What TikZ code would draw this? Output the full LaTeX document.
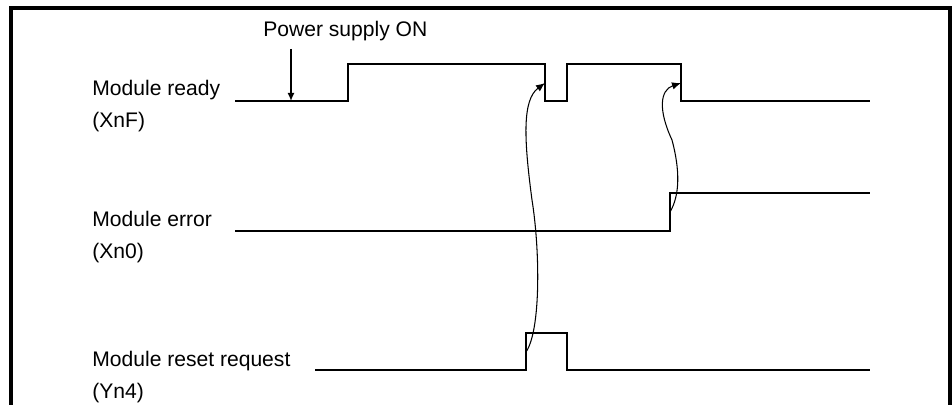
\documentclass[tikz,border=0pt]{standalone}
\usepackage{fontspec}
\setmainfont{Liberation Sans}
\usetikzlibrary{arrows.meta}
\begin{document}
\begin{tikzpicture}[x=0.02cm, y=-0.02cm,
    label/.style={anchor=base west, inner sep=0pt, font=\fontsize{12}{14}\selectfont},
    wave/.style={line width=0.85pt, line join=miter},
    cause/.style={line width=0.6pt, -{Latex[length=0.18cm,width=0.15cm]}},
    >={Latex[length=0.16cm,width=0.14cm]}]
  \useasboundingbox (0,0) rectangle (952,405);
  % open frame
  \draw[line width=0.08cm] (11,405) -- (11,8) -- (950,8) -- (950,405);

  \node (pwr)     [label] at (263,37)  {Power supply ON};
  \node (rdyname) [label] at (92,96)   {Module ready};
  \node (rdybit)  [label] at (92,128)  {(XnF)};
  \node (errname) [label] at (92,226)  {Module error};
  \node (errbit)  [label] at (92,258)  {(Xn0)};
  \node (rstname) [label] at (92,366)  {Module reset request};
  \node (rstbit)  [label] at (92,398)  {(Yn4)};

  % waveforms
  \draw[wave] (235,101) -- (348,101) -- (348,64) -- (545,64) -- (545,101)
              -- (567,101) -- (567,64) -- (681,64) -- (681,101) -- (870,101);
  \draw[wave] (235,231) -- (670,231) -- (670,193) -- (870,193);
  \draw[wave] (315,370) -- (526,370) -- (526,333) -- (567,333) -- (567,370)
              -- (870,370);

  \coordinate (pwrtop) at (291,49);
  \coordinate (pwrbot) at (291,101);
  \coordinate (rstup)  at (526,352);
  \coordinate (rdyoff) at (545,83);
  \coordinate (errup)  at (670,212);
  \coordinate (rdyoff2) at (681,83);

  \draw[->, line width=0.85pt] (pwrtop) -- (pwrbot);
  \draw[cause] (rstup) .. controls (541,330) and (540,250) .. (532,200)
               .. controls (524,140) and (522,100) .. (rdyoff);
  \draw[cause] (errup) .. controls (680,195) and (680,170) .. (672,140)
               .. controls (658,110) and (660,90) .. (rdyoff2);
\end{tikzpicture}
\end{document}
